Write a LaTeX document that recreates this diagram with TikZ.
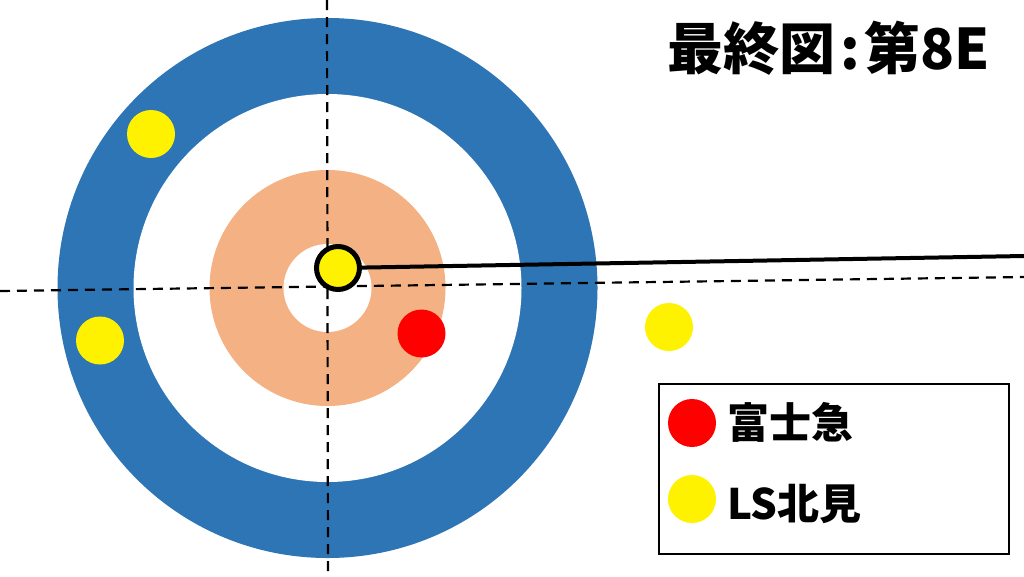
\documentclass[tikz,border=0pt]{standalone}
\usepackage{fontspec}
\newfontfamily\jpfont{Noto Sans CJK JP}
\usetikzlibrary{positioning}
\definecolor{houseblue}{HTML}{2E75B6}
\definecolor{houseorange}{HTML}{F4B183}

\tikzset{
  stone/.style={circle, minimum size=48pt, inner sep=0pt},
  centerline/.style={line width=2.2pt, dash pattern=on 10pt off 7pt},
  keytext/.style={font=\jpfont\bfseries\fontsize{42}{42}\selectfont, inner sep=0pt, anchor=west},
}

\begin{document}
\begin{tikzpicture}[x=1pt, y=-1pt]
    \useasboundingbox (0,0) rectangle (1024,576);

    % House - rings from outside in
    \fill[houseblue] (327.5,288) circle (270pt);
    \fill[white] (327.5,288) circle (194pt);
    \fill[houseorange] (327.5,288) circle (118pt);
    \fill[white] (327.5,288) circle (44pt);

    % Center lines
    \coordinate (vtop) at (327,0);
    \coordinate (vbot) at (328,576);
    \coordinate (hleft) at (0,291);
    \coordinate (hright) at (1024,277);
    \draw[centerline] (vtop) -- (vbot);
    \draw[centerline] (hleft) -- (hright);

    % Stones in play
    \node[stone, fill=yellow] (ya) at (151,134) {};
    \node[stone, fill=yellow] (yb) at (100,340.5) {};
    \node[stone, fill=yellow] (yc) at (669,327) {};
    \node[stone, fill=red] (ra) at (421.5,333.5) {};

    % Last stone on the button, with its path
    \node[stone, fill=yellow, draw=black, line width=5pt, minimum size=43pt] (shot) at (338,268) {};
    \coordinate (pathend) at (1024,256);
    \draw[line width=4pt] (shot) -- (pathend);

    % Title
    \node[font=\jpfont\bfseries\fontsize{56}{56}\selectfont, anchor=west, inner sep=0pt] (title) at (667,48) {最終図\hspace{5pt}:\hspace{5pt}第8E};

    % Legend
    \node[draw, line width=2pt, minimum width=350pt, minimum height=170pt, inner sep=0pt, anchor=north west] (legend) at (658,382.5) {};
    \node[stone, fill=red] (keyred) at (692,423) {};
    \node[stone, fill=yellow] (keyyellow) at (692,499) {};
    \node[keytext] (fuji) at (727,422) {富士急};
    \node[keytext] (kitami) at (727,504) {LS北見};
\end{tikzpicture}
\end{document}
